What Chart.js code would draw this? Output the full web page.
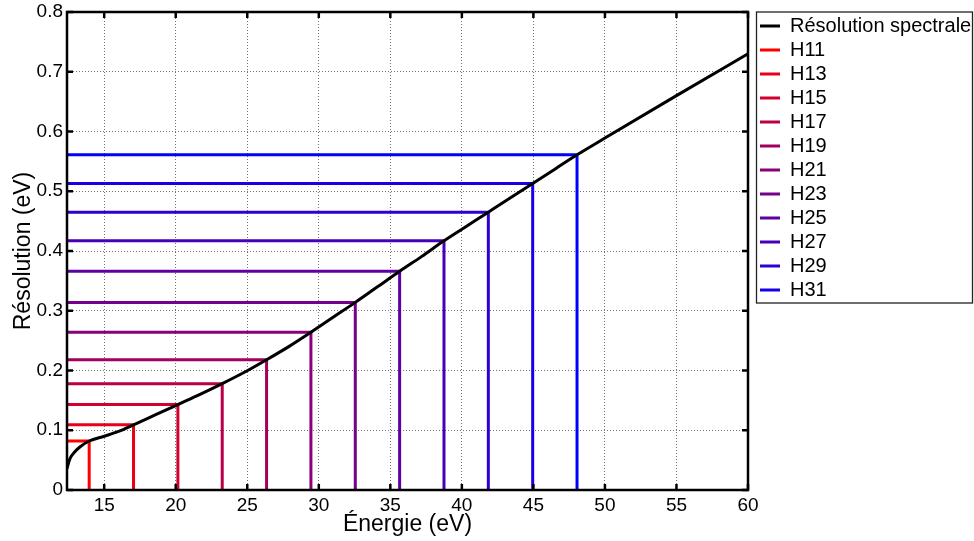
<!DOCTYPE html>
<html>
<head>
<meta charset="utf-8">
<script src="https://cdn.jsdelivr.net/npm/chart.js@4/dist/chart.umd.min.js"></script>
<style>
  html, body { margin: 0; padding: 0; background: #fff; }
  #wrap { width: 974px; height: 541px; }
</style>
</head>
<body>
<div id="wrap"><canvas id="ch" width="974" height="541"></canvas></div>
<script>
// axes
const xRange = [12.4, 60];
const yRange = [0, 0.8];
const xTicks = [15, 20, 25, 30, 35, 40, 45, 50, 55, 60];
const yTicks = [0, 0.1, 0.2, 0.3, 0.4, 0.5, 0.6, 0.7, 0.8];

// spectral resolution curve (eV vs eV)
const curveEnergy = [12.4, 12.6, 12.95, 13.3, 13.95, 15, 16, 17.05, 18.6, 20.15, 21.7, 23.25, 24.8, 26.35,
  27.9, 29.45, 31, 32.55, 34.1, 35.65, 37.2, 38.75, 40.3, 41.85, 43.4, 44.95, 46.5, 48.05, 50, 55, 60];
const curveRes = [0.036, 0.052, 0.064, 0.072, 0.082, 0.090, 0.098, 0.109, 0.126, 0.143, 0.160, 0.178, 0.197, 0.218,
  0.240, 0.264, 0.289, 0.314, 0.340, 0.366, 0.391, 0.417, 0.441, 0.465, 0.489, 0.513, 0.537, 0.561, 0.589, 0.660, 0.730];

// harmonics
const harmEnergy = [13.95, 17.05, 20.15, 23.25, 26.35, 29.45, 32.55, 35.65, 38.75, 41.85, 44.95, 48.05];
const harmRes = [0.082, 0.109, 0.143, 0.178, 0.218, 0.264, 0.314, 0.366, 0.417, 0.465, 0.513, 0.561];
const harmNames = ['H11', 'H13', 'H15', 'H17', 'H19', 'H21', 'H23', 'H25', 'H27', 'H29', 'H31'];

const FONT = '"Liberation Sans", Arial, Helvetica, sans-serif';

function ramp(i, n){
  const t = n > 1 ? i / (n - 1) : 0;
  return `rgb(${Math.round(255 * (1 - t))},0,${Math.round(255 * t)})`;
}

const datasets = [{
  label: 'Résolution spectrale',
  data: curveEnergy.map((e, i) => ({ x: e, y: curveRes[i] })),
  borderColor: '#000', backgroundColor: '#000',
  borderWidth: 3, pointRadius: 0, cubicInterpolationMode: 'monotone'
}];
harmEnergy.forEach((e, i) => {
  const col = ramp(i, harmEnergy.length);
  datasets.push({
    label: harmNames[i] || '',
    data: [{ x: xRange[0], y: harmRes[i] }, { x: e, y: harmRes[i] }, { x: e, y: yRange[0] }],
    borderColor: col, backgroundColor: col,
    borderWidth: 3, pointRadius: 0, tension: 0
  });
});

// box round the plot, inward ticks on all sides, border round the legend
const frame = {
  id: 'frame',
  afterDraw(c){
    const { ctx, chartArea: a, scales: { x, y } } = c;
    ctx.save();
    ctx.strokeStyle = '#000';
    ctx.lineWidth = 2.5;
    ctx.strokeRect(a.left, a.top, a.right - a.left, a.bottom - a.top);
    ctx.beginPath();
    for (const v of xTicks){
      const p = x.getPixelForValue(v);
      ctx.moveTo(p, a.bottom); ctx.lineTo(p, a.bottom - 6);
      ctx.moveTo(p, a.top); ctx.lineTo(p, a.top + 6);
    }
    for (const v of yTicks){
      const p = y.getPixelForValue(v);
      ctx.moveTo(a.left, p); ctx.lineTo(a.left + 6, p);
      ctx.moveTo(a.right, p); ctx.lineTo(a.right - 6, p);
    }
    ctx.stroke();

    const lg = c.legend, hb = lg.legendHitBoxes;
    if (hb && hb.length){
      const last = hb[hb.length - 1];
      ctx.lineWidth = 1.3;
      ctx.strokeStyle = '#222';
      const bottom = last.top + last.height + 3;
      ctx.strokeRect(lg.left + 0.5, a.top, c.width - 2 - lg.left, bottom - a.top);
    }
    ctx.restore();
  }
};

new Chart(document.getElementById('ch'), {
  type: 'line',
  data: { datasets },
  options: {
    responsive: false,
    animation: false,
    layout: { padding: 0 },
    plugins: {
      tooltip: { enabled: false },
      legend: {
        position: 'right',
        align: 'start',
        fullSize: false,
        maxWidth: 218,
        labels: {
          color: '#000',
          font: { family: FONT, size: 20 },
          boxWidth: 20,
          boxHeight: 0,
          padding: 4,
          filter: item => item.text !== ''
        }
      }
    },
    scales: {
      x: {
        type: 'linear',
        min: xRange[0], max: xRange[1],
        afterBuildTicks: s => { s.ticks = xTicks.map(v => ({ value: v })); },
        afterFit: s => { s.height = 51; },
        ticks: { color: '#000', font: { family: FONT, size: 19 }, padding: 4, maxRotation: 0, autoSkip: false },
        grid: { color: 'rgba(0,0,0,0.55)', lineWidth: 1, drawTicks: false },
        border: { display: false, dash: [1, 2] },
        title: { display: true, text: 'Énergie (eV)', color: '#000', font: { family: FONT, size: 23 }, padding: { top: 0, bottom: 3 } }
      },
      y: {
        type: 'linear',
        min: yRange[0], max: yRange[1],
        afterBuildTicks: s => { s.ticks = yTicks.map(v => ({ value: v })); },
        afterFit: s => { s.width = 67; s.paddingTop = 12; },
        ticks: { color: '#000', font: { family: FONT, size: 19 }, padding: 4, callback: v => String(v) },
        grid: { color: 'rgba(0,0,0,0.55)', lineWidth: 1, drawTicks: false },
        border: { display: false, dash: [1, 2] },
        title: { display: true, text: 'Résolution (eV)', color: '#000', font: { family: FONT, size: 23 }, padding: { top: 10, bottom: 0 } }
      },
      yR: {
        type: 'linear',
        position: 'right',
        display: true,
        afterFit: s => { s.width = 8; },
        ticks: { display: false },
        grid: { display: false },
        border: { display: false }
      }
    }
  },
  plugins: [frame]
});
</script>
</body>
</html>
